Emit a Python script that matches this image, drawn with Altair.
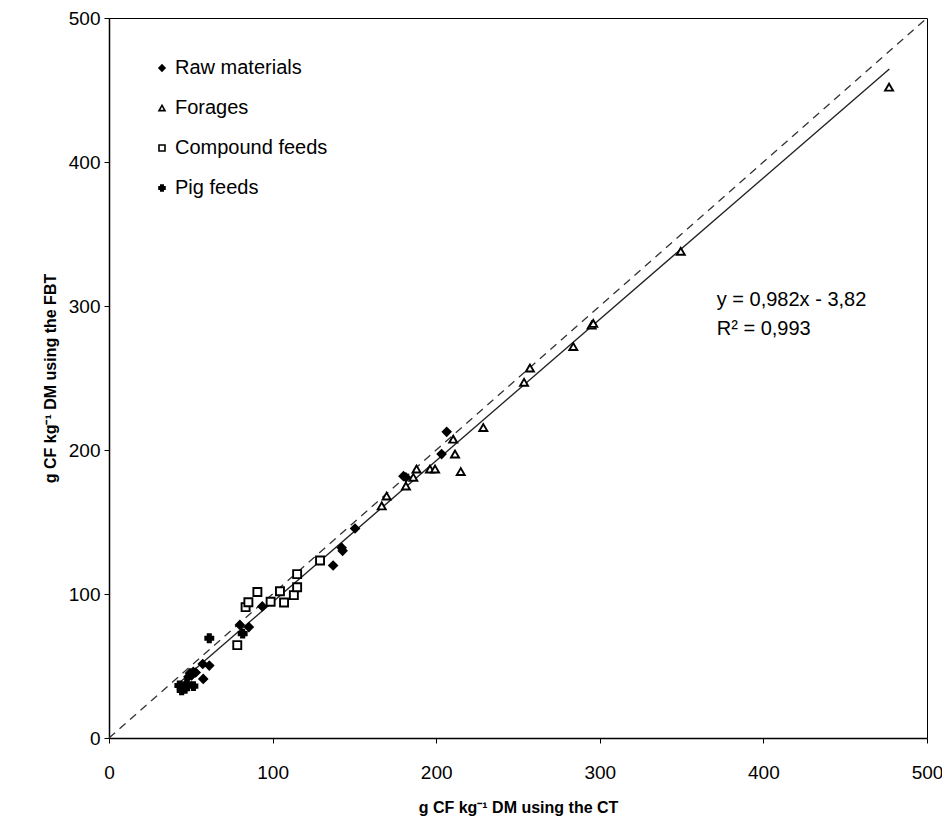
import altair as alt
import pandas as pd

categories = ["Raw materials", "Forages", "Compound feeds", "Pig feeds"]

# g CF kg-1 DM using the CT (x) vs using the FBT (y)
raw_x = [80.0, 85.5, 57.3, 61.3, 49.5, 51.5, 48.5, 50.5, 53.0, 57.6, 93.7, 137.0, 142.2, 142.8, 150.4, 180.0, 181.5, 203.3, 206.4]
raw_y = [78.5, 77.0, 51.4, 50.3, 45.0, 46.0, 42.5, 43.5, 45.5, 41.0, 91.4, 119.8, 132.2, 130.0, 145.5, 181.8, 181.0, 197.2, 212.6]

forage_x = [166.7, 169.7, 181.5, 186.0, 188.0, 196.2, 199.3, 210.4, 211.5, 215.0, 228.8, 253.7, 257.3, 283.8, 295.0, 296.0, 349.5, 476.8]
forage_y = [161.2, 168.0, 175.0, 181.0, 186.8, 186.8, 186.8, 207.5, 197.2, 185.0, 215.6, 247.0, 256.9, 271.8, 286.7, 287.9, 338.0, 452.0]

compound_x = [78.4, 83.5, 85.2, 90.7, 98.8, 104.5, 107.0, 113.0, 115.0, 115.0, 129.0]
compound_y = [64.5, 90.9, 94.3, 101.4, 94.6, 101.9, 94.1, 99.2, 104.7, 113.8, 123.3]

pig_x = [61.3, 81.7, 43.0, 46.5, 47.5, 51.6, 44.4]
pig_y = [69.3, 72.5, 36.5, 34.2, 37.6, 36.0, 33.1]

# regression line endpoints (y = 0,982x - 3,82) and 1:1 line
reg_x = [43.0, 477.0]
reg_y = [38.4, 464.6]
id_x = [0, 500]
id_y = [0, 500]

ann_text = ["y = 0,982x - 3,82", "R\u00b2 = 0,993"]
ann_x = [371.5, 371.5]
ann_y = [304.0, 284.0]

rows = []
for name, xs_, ys_ in [
    ("Raw materials", raw_x, raw_y),
    ("Forages", forage_x, forage_y),
    ("Compound feeds", compound_x, compound_y),
    ("Pig feeds", pig_x, pig_y),
]:
    for a, b in zip(xs_, ys_):
        rows.append({"group": name, "ct": a, "fbt": b})
df = pd.DataFrame(rows)

reg_df = pd.DataFrame({"ct": reg_x, "fbt": reg_y})
id_df = pd.DataFrame({"ct": id_x, "fbt": id_y})
ann_df = pd.DataFrame({"ct": ann_x, "fbt": ann_y, "t": ann_text})

FONT = "Liberation Sans"
xs = alt.Scale(domain=[0, 500], nice=False, zero=False)
ys = alt.Scale(domain=[0, 500], nice=False, zero=False)

x_axis = alt.Axis(values=[0, 100, 200, 300, 400, 500], labelFlush=False,
                  labelPadding=20, titlePadding=17, tickSize=5)
y_axis = alt.Axis(values=[0, 100, 200, 300, 400, 500], labelFlush=False,
                  labelPadding=4, titlePadding=10, tickSize=5)

X = alt.X("ct:Q", scale=xs, axis=x_axis, title="g CF kg\u207b\u00b9 DM using the CT")
Y = alt.Y("fbt:Q", scale=ys, axis=y_axis, title="g CF kg\u207b\u00b9 DM using the FBT")

legend = alt.Legend(title=None, orient="none", legendX=43, legendY=40,
                    labelFontSize=20, labelFont=FONT, labelColor="black",
                    symbolSize=36, symbolStrokeWidth=1.6,
                    rowPadding=20, labelOffset=3)

points = alt.Chart(df).mark_point(filled=True, strokeWidth=1.9,
                                  opacity=1, size=64).encode(
    x=X, y=Y,
    shape=alt.Shape("group:N", scale=alt.Scale(domain=categories,
                    range=["diamond", "triangle-up", "square", "cross"]), legend=legend),
    fill=alt.Fill("group:N", scale=alt.Scale(domain=categories,
                  range=["black", "white", "white", "black"]), legend=legend),
    stroke=alt.Stroke("group:N", scale=alt.Scale(domain=categories,
                      range=["black", "black", "black", "black"]), legend=legend),
)

ident = alt.Chart(id_df).mark_line(color="#333333", strokeWidth=1.3,
                                   strokeDash=[8, 6]).encode(x=X, y=Y)
reg = alt.Chart(reg_df).mark_line(color="#222222", strokeWidth=1.4).encode(x=X, y=Y)

ann = alt.Chart(ann_df).mark_text(align="left", baseline="middle", font=FONT,
                                  fontSize=20, color="black").encode(
    x=alt.X("ct:Q", scale=xs), y=alt.Y("fbt:Q", scale=ys), text="t:N")

chart = alt.layer(ident, reg, points, ann).properties(
    width=818, height=720,
    autosize=alt.AutoSizeParams(type="none"),
    padding={"left": 101, "top": 10, "right": 15, "bottom": 80},
    background="white",
).configure_view(stroke="black", strokeWidth=1).configure_axis(
    grid=False, domainColor="black", domainWidth=1.5, tickColor="black",
    labelFont=FONT, labelFontSize=19, labelColor="black",
    titleFont=FONT, titleFontSize=16, titleFontWeight="bold", titleColor="black",
)

chart.save("out.html", embed_options={"renderer": "svg", "actions": False})
